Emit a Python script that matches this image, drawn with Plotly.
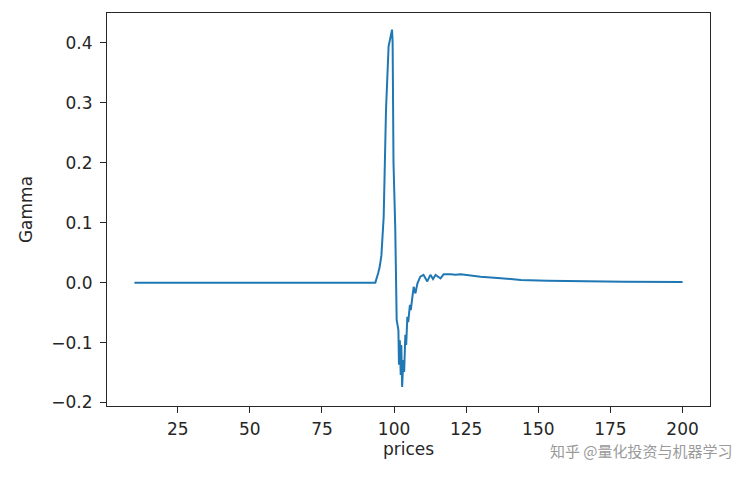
import plotly.graph_objects as go

prices = [10, 20, 30, 40, 50, 60, 70, 80, 88, 90, 92, 93.5, 94.5, 95.0, 95.6, 96.0, 96.4, 96.9, 97.2,
          98.1, 99.3,
          99.5, 99.8, 100.4, 100.8, 100.9, 101.5, 101.7, 102.0, 102.3, 102.5, 102.8, 103.2, 103.5,
          103.9, 104.2, 104.6, 104.9, 105.5, 105.8, 106.3, 106.8, 107.4, 108.1, 109.1, 110.2,
          111.5, 112.6, 113.5, 114.4, 116.1, 117.2, 119.6, 121.3, 123.1, 126.5, 130.0, 137.0,
          143.9, 153.2, 165.0, 180.0, 200.0]
gamma = [0.0, 0.0, 0.0, 0.0, 0.0, 0.0, 0.0, 0.0, 0.0, -0.001, -0.001, 0.0, 0.016, 0.026, 0.045,
         0.070, 0.110, 0.221, 0.288, 0.394, 0.422,
         0.400, 0.200, 0.093, -0.012, -0.062, -0.079, -0.137, -0.096, -0.154, -0.104, -0.174,
         -0.129, -0.149, -0.087, -0.104, -0.057, -0.066, -0.037, -0.046, -0.026, -0.007, -0.018,
         -0.001, 0.010, 0.013, 0.002, 0.013, 0.006, 0.013, 0.007, 0.014, 0.014, 0.013, 0.014,
         0.012, 0.010, 0.0073, 0.0045, 0.003, 0.002, 0.0015, 0.001]

x_ticks = [25, 50, 75, 100, 125, 150, 175, 200]
y_ticks = [-0.2, -0.1, 0.0, 0.1, 0.2, 0.3, 0.4]

fig = go.Figure()
fig.add_trace(go.Scatter(x=prices, y=gamma, mode="lines",
                         line=dict(color="#1f77b4", width=2), showlegend=False))

axis_common = dict(showgrid=False, zeroline=False, showline=True, linecolor="#262626",
                   linewidth=1, mirror=True, ticks="outside", ticklen=6, tickwidth=1,
                   tickcolor="#262626", tickfont=dict(family="DejaVu Sans", size=17, color="#262626"))

fig.update_layout(
    width=736, height=470,
    margin=dict(l=99, r=34, t=5, b=72),
    paper_bgcolor="white", plot_bgcolor="white",
    font=dict(family="DejaVu Sans", size=17, color="#262626"),
    xaxis=dict(range=[0.5, 209.5], tickvals=x_ticks, ticktext=[str(v) for v in x_ticks],
               ticklabelstandoff=2,
               title=dict(text="prices", standoff=4, font=dict(size=17)), **axis_common),
    yaxis=dict(range=[-0.2058, 0.4498], tickvals=y_ticks, tickformat=".1f",
               ticklabelstandoff=4,
               title=dict(text="Gamma", standoff=14, font=dict(size=17)), **axis_common),
    annotations=[dict(text="知乎 @量化投资与机器学习", xref="paper", yref="paper",
                      x=1.041, y=-0.112, xanchor="right", yanchor="middle", showarrow=False,
                      font=dict(family="Noto Sans CJK SC", size=15, color="#9a9a9a"))],
)

fig.write_html("out.html")
